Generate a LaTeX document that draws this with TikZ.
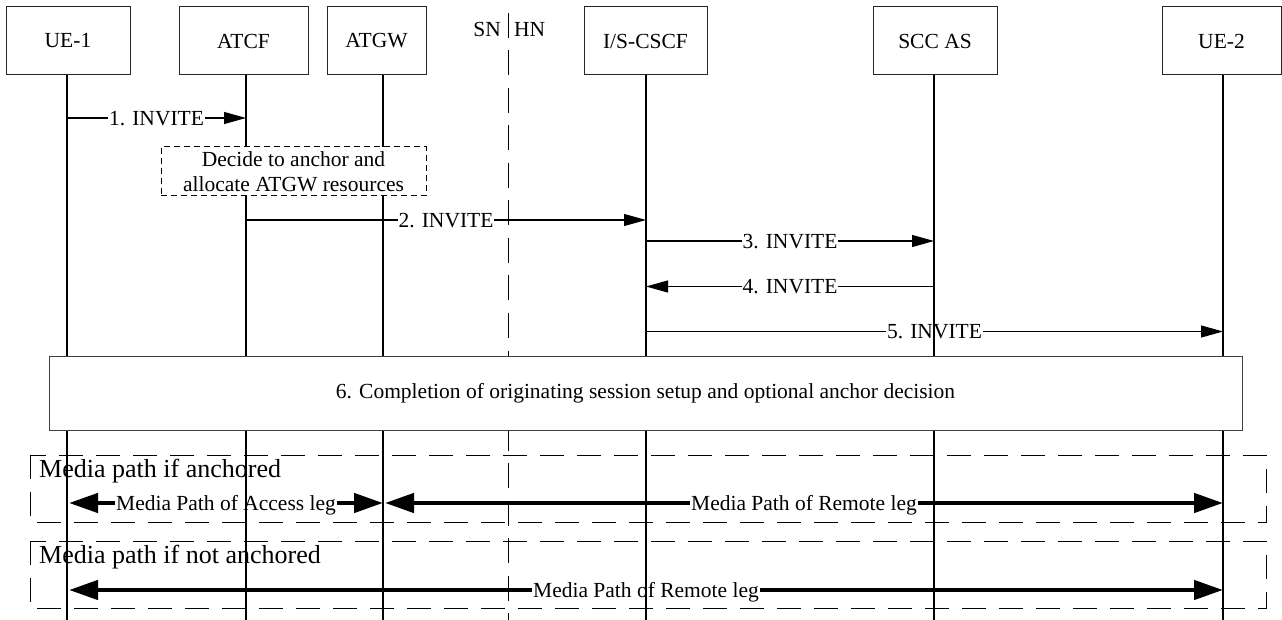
\documentclass[tikz,border=0pt]{standalone}
\usepackage{fontspec}
\setmainfont{Liberation Serif}
\usetikzlibrary{arrows.meta}
\newcommand\fsmain{\fontsize{21.5pt}{25pt}\selectfont}
\newcommand\fsbig{\fontsize{26pt}{30pt}\selectfont}
\tikzset{
  hdr/.style={draw=black!85, line width=1pt, minimum height=68pt, inner sep=0pt, font=\fsmain},
  life/.style={line width=1.1pt},
  msg/.style={line width=1.1pt, -{Triangle[length=22pt,width=12pt]}},
  lbl/.style={fill=white, inner xsep=1pt, inner ysep=0pt, anchor=base, yshift=-7.1pt, font=\fsmain},
  media/.style={line width=4.5pt, {Triangle[length=29pt,width=19pt]}-{Triangle[length=29pt,width=19pt]}},
  framebox/.style={line width=1pt, dash pattern=on 24pt off 13pt},
  netline/.style={line width=1pt, dash pattern=on 25pt off 12.5pt},
  decide/.style={draw, fill=white, line width=1pt, dash pattern=on 6pt off 4pt, align=center,
     minimum width=265pt, minimum height=49pt, inner sep=0pt, font=\fsmain},
  stepsix/.style={draw=black!75, fill=white, line width=1pt, minimum width=1193pt, minimum height=74pt,
     inner sep=0pt, font=\fsmain},
  flabel/.style={anchor=base west, inner sep=0pt, font=\fsbig},
}
\begin{document}
\begin{tikzpicture}[x=1pt,y=-1pt]
\useasboundingbox[fill=white] (0,0) rectangle (1282,620);

% lifeline bottoms
\coordinate (L1) at (67,620);
\coordinate (L2) at (246,620);
\coordinate (L3) at (383,620);
\coordinate (L4) at (646,620);
\coordinate (L5) at (934,620);
\coordinate (L6) at (1223,620);
% rows
\coordinate (r1) at (0,118);
\coordinate (r2) at (0,220);
\coordinate (r3) at (0,241);
\coordinate (r4) at (0,286.5);
\coordinate (r5) at (0,331.5);
\coordinate (ra) at (0,503);
\coordinate (rb) at (0,590);

% header boxes
\node[hdr, minimum width=124pt] (ue1)  at (68,41)     {UE-1};
\node[hdr, minimum width=129pt] (atcf) at (243.5,41)  {ATCF};
\node[hdr, minimum width=99pt]  (atgw) at (376.5,41)  {ATGW};
\node[hdr, minimum width=123pt] (cscf) at (645.5,41)  {I/S-CSCF};
\node[hdr, minimum width=124pt] (scc)  at (935,41)    {SCC AS};
\node[hdr, minimum width=119pt] (ue2)  at (1221.5,41) {UE-2};

% messages
\draw[msg] (L1 |- r1) -- node[lbl]{1. INVITE} (L2 |- r1);
\draw[msg] (L2 |- r2) -- node[lbl]{2. INVITE} (L4 |- r2);
\draw[msg] (L4 |- r3) -- node[lbl]{3. INVITE} (L5 |- r3);
\draw[msg] (L5 |- r4) -- node[lbl]{4. INVITE} (L4 |- r4);
\draw[msg] (L4 |- r5) -- node[lbl]{5. INVITE} (L6 |- r5);

% media paths
\draw[media] ([xshift=2pt]L1 |- ra) -- node[lbl]{Media Path of Access leg} (L3 |- ra);
\draw[media] ([xshift=2pt]L3 |- ra) -- node[lbl]{Media Path of Remote leg} (L6 |- ra);
\draw[media] ([xshift=2pt]L1 |- rb) -- node[lbl]{Media Path of Remote leg} (L6 |- rb);

% lifelines
\draw[life] (ue1.south -| L1) -- (L1);
\draw[life] (atcf.south -| L2) -- (L2);
\draw[life] (atgw.south -| L3) -- (L3);
\draw[life] (cscf.south -| L4) -- (L4);
\draw[life] (scc.south -| L5) -- (L5);
\draw[life] (ue2.south -| L6) -- (L6);

% SN / HN boundary
\coordinate (nt) at (508,13);
\coordinate (nb) at (508,620);
\draw[netline] (nt) -- (nb);
\node[anchor=base east, inner sep=0pt, font=\fsmain] (sn) at (501,37) {SN};
\node[anchor=base west, inner sep=0pt, font=\fsmain] (hn) at (514,37) {HN};

% media frames
\draw[framebox] (30,455) rectangle (1266,522);
\node[flabel] (fa) at (39,477) {Media path if anchored};
\draw[framebox] (30,541) rectangle (1266,608);
\node[flabel] (fb) at (39,563) {Media path if not anchored};

% boxes
\node[decide] (dec) at (293.5,171.5) {Decide to anchor and\\allocate ATGW resources};
\node[stepsix] (s6) at (645.5,393) {6. Completion of originating session setup and optional anchor decision};
\end{tikzpicture}
\end{document}
